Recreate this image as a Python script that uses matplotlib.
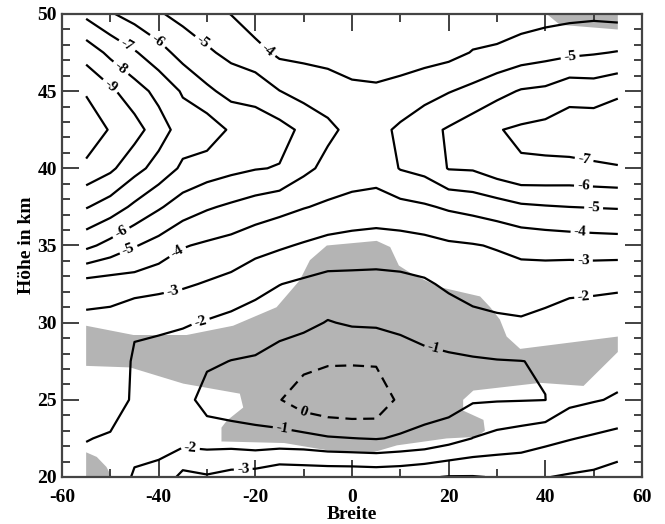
import numpy as np
import matplotlib
matplotlib.use('Agg')
import matplotlib.pyplot as plt
from matplotlib.ticker import MultipleLocator

plt.rcParams['font.family'] = ['Liberation Serif', 'DejaVu Serif']
plt.rcParams['font.weight'] = 'bold'
plt.rcParams['axes.unicode_minus'] = False

#%% Data

# grid: latitude (Breite) and altitude (Hoehe in km)
breite = [-55, -50, -45, -40, -35, -30, -25, -20, -15, -10, -5, 0,
          5, 10, 15, 20, 25, 30, 35, 40, 45, 50, 55]
hoehe = [20, 22.5, 25, 27.5, 30, 32.5, 35, 37.5, 40, 42.5, 45, 47.5, 50]

# field values, one row per latitude, going up from 20 km to 50 km
werte = [
    [-1.80, -2.02, -2.30, -2.45, -2.70, -3.60, -6.25, -8.07, -9.73, -10.80, -9.88, -8.60, -6.77],   # -55
    [-1.70, -1.95, -2.24, -2.53, -2.65, -3.50, -5.67, -7.53, -9.20, -9.90, -9.20, -7.76, -6.10],    # -50
    [-2.05, -1.85, -1.93, -1.90, -2.10, -3.52, -5.07, -6.80, -8.33, -9.40, -8.42, -7.10, -5.60],    # -45
    [-2.20, -1.75, -1.65, -1.70, -2.15, -3.30, -4.63, -6.12, -7.63, -8.45, -7.71, -6.39, -5.10],    # -40
    [-3.30, -1.60, -1.40, -1.45, -2.10, -3.13, -4.07, -5.52, -6.82, -7.55, -6.89, -5.63, -4.70],    # -35
    [-3.10, -1.55, -0.60, -1.15, -1.92, -2.92, -3.85, -5.11, -6.50, -7.60, -6.19, -5.15, -4.35],    # -30
    [-3.35, -1.50, -0.40, -0.98, -1.71, -2.70, -3.66, -4.84, -6.25, -6.85, -5.68, -4.74, -3.98],    # -25
    [-3.45, -1.35, -0.35, -0.90, -1.54, -2.32, -3.35, -4.56, -6.05, -6.55, -5.62, -4.35, -3.40],    # -20
    [-3.80, -1.35, -0.05, -0.60, -1.37, -2.02, -3.13, -4.31, -5.95, -6.35, -5.02, -3.80, -3.30],    # -15
    [-3.75, -1.30, 0.60, -0.32, -1.24, -1.83, -2.90, -4.05, -5.25, -5.80, -4.64, -3.75, -3.30],     # -10
    [-3.75, -1.10, 0.90, -0.13, -0.95, -1.66, -2.68, -3.84, -4.73, -5.20, -4.55, -3.60, -3.30],     # -5
    [-3.75, -1.02, 1.00, -0.12, -1.10, -1.69, -2.56, -3.71, -4.45, -4.75, -4.15, -3.65, -3.35],     # 0
    [-3.70, -0.95, 0.90, -0.15, -1.13, -1.69, -2.50, -3.61, -4.40, -4.65, -4.10, -3.65, -3.35],     # 5
    [-3.75, -1.10, -0.30, -0.55, -1.21, -1.74, -2.55, -3.72, -5.05, -5.20, -4.20, -3.70, -3.40],    # 10
    [-3.90, -1.25, -0.55, -0.80, -1.30, -1.87, -2.66, -3.88, -5.30, -5.70, -4.60, -3.60, -3.45],    # 15
    [-4.05, -1.60, -0.50, -0.85, -1.49, -2.16, -2.85, -4.13, -6.05, -6.10, -4.95, -3.70, -3.45],    # 20
    [-4.05, -2.02, -0.90, -0.90, -1.73, -2.37, -2.94, -4.31, -6.10, -6.55, -5.25, -4.05, -3.40],    # 25
    [-3.95, -2.30, -0.94, -0.96, -1.85, -2.44, -3.08, -4.54, -6.55, -6.95, -5.70, -4.20, -3.30],    # 30
    [-3.85, -2.50, -0.96, -0.99, -1.90, -2.52, -3.27, -4.83, -6.90, -7.15, -6.08, -4.47, -3.50],    # 35
    [-3.97, -2.74, -0.99, -1.06, -1.74, -2.42, -3.37, -4.93, -6.85, -7.30, -6.20, -4.65, -3.65],    # 40
    [-4.10, -2.95, -1.75, -1.45, -1.55, -2.26, -3.44, -5.00, -6.79, -7.50, -6.65, -4.80, -3.75],    # 45
    [-4.20, -3.13, -1.93, -1.55, -1.50, -2.22, -3.50, -5.04, -6.86, -7.60, -6.53, -4.92, -3.80],    # 50
    [-4.45, -3.32, -2.10, -1.60, -1.65, -2.10, -3.54, -5.08, -6.93, -7.75, -6.82, -5.05, -3.70],    # 55
]
stufen = [-10, -9, -8, -7, -6, -5, -4, -3, -2, -1, 0]

# significant areas (grey), outlines in latitude / km
sig_haupt_lat = [-55, -45.2, -34.2, -24.6, -15.6, -10.8, -8.7, -5.2, 1.7, 5.1, 7.9, 9.7,
                 12.7, 18.2, 26.5, 28.6, 30.6, 32, 34.8, 55, 55, 47.9, 39, 25.1, 23.0,
                 23.0, 27.2, 27.5, 25.8, 19.6, 9.3, 4.4, -4.5, -14, -26.6, -27, -27,
                 -25.9, -22.5, -23.2, -34.9, -45.9, -55]
sig_haupt_alt = [29.8, 29.2, 29.2, 29.8, 31.0, 32.75, 34.05, 35.0, 35.2, 35.3, 34.9, 33.7,
                 33.1, 32.3, 31.7, 31.0, 30.2, 29.1, 28.3, 29.1, 28.1, 25.9, 26.1, 25.6, 25.0,
                 24.3, 23.7, 23.0, 22.6, 22.5, 22.05, 21.6, 21.7, 22.2, 22.3, 22.3, 23.2,
                 23.65, 24.5, 25.4, 26.05, 27.1, 27.2]
sig_sw_lat = [-55, -52.8, -50.8, -49.7, -55]
sig_sw_alt = [21.6, 21.3, 20.65, 20, 20]
sig_no_lat = [40.3, 43.0, 54.8, 55, 55]
sig_no_alt = [50, 49.3, 49.0, 49.0, 50]

# where the contour labels sit (lat, km)
label_pos = [(-46.3, 48.1), (-40.1, 48.3), (-30.8, 48.2), (-17.6, 47.6), (-47.6, 46.6),
             (-50.1, 45.3), (-48, 36.0), (-46.3, 34.8), (-36.3, 34.7), (-37, 32.0),
             (-31.4, 30.15), (16.8, 28.2), (-10.1, 24.2), (-14.5, 23.0), (-33.5, 21.6),
             (-22.5, 20.5), (45.1, 47.3), (47.9, 40.3), (47.9, 38.9), (50, 37.5),
             (47.2, 36.0), (47.9, 34.2), (47.9, 31.8)]

#%% Plot

Z = np.array(werte).T

fig = plt.figure(figsize=(6.65, 5.24), dpi=100)
ax = fig.add_axes([0.0932, 0.0897, 0.8722, 0.8836])

grau = '#b4b4b4'
ax.fill(sig_haupt_lat, sig_haupt_alt, color=grau, lw=0, zorder=1)
ax.fill(sig_sw_lat, sig_sw_alt, color=grau, lw=0, zorder=1)
ax.fill(sig_no_lat, sig_no_alt, color=grau, lw=0, zorder=1)

stile = ['solid' if s < 0 else (0, (5, 3)) for s in stufen]
cs = ax.contour(breite, hoehe, Z, levels=stufen, colors='k', linewidths=1.6,
                linestyles=stile, zorder=2)
txt = ax.clabel(cs, fmt=lambda v: '%d' % v, fontsize=11, inline=True, inline_spacing=4,
                manual=label_pos)
for t in txt:
    t.set_fontweight('bold')

ax.set_xlim(-60, 60)
ax.set_ylim(20, 50)
ax.xaxis.set_major_locator(MultipleLocator(20))
ax.xaxis.set_minor_locator(MultipleLocator(10))
ax.yaxis.set_major_locator(MultipleLocator(5))
ax.yaxis.set_minor_locator(MultipleLocator(1))
ax.tick_params(which='both', direction='in', top=True, right=True, color='#333333',
               labelsize=14, width=1.3)
ax.tick_params(which='major', length=12)
ax.tick_params(which='minor', length=6)
ax.tick_params(axis='x', which='major', pad=9)
for lbl in ax.get_xticklabels() + ax.get_yticklabels():
    lbl.set_fontweight('bold')
for s in ax.spines.values():
    s.set_color('#444444')
    s.set_linewidth(1.6)

ax.set_xlabel('Breite', fontsize=14, fontweight='bold', labelpad=0)
ax.set_ylabel('Höhe in km', fontsize=14, fontweight='bold', labelpad=2)

fig.savefig('out.png', dpi=100)
